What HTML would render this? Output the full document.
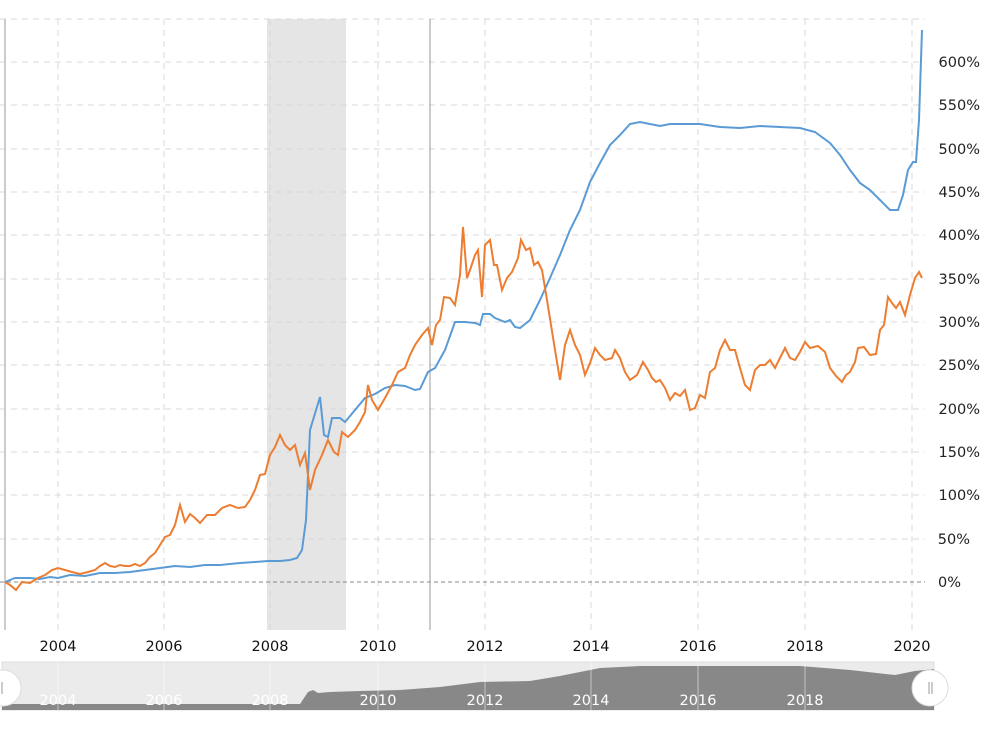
<!DOCTYPE html>
<html><head><meta charset="utf-8"><style>
body{margin:0;background:#fff;}
svg text{font-family:"DejaVu Sans","Liberation Sans",sans-serif;}
</style></head><body>
<svg width="997" height="728" viewBox="0 0 997 728" xmlns="http://www.w3.org/2000/svg">
<rect x="267" y="19" width="79" height="611" fill="#e5e5e5"/>
<g stroke="#d8d8d8" stroke-dasharray="6,5" stroke-width="1">
<line x1="0" y1="19" x2="925" y2="19"/><line x1="0" y1="62" x2="925" y2="62"/><line x1="0" y1="105" x2="925" y2="105"/><line x1="0" y1="149" x2="925" y2="149"/><line x1="0" y1="192" x2="925" y2="192"/><line x1="0" y1="235" x2="925" y2="235"/><line x1="0" y1="279" x2="925" y2="279"/><line x1="0" y1="322" x2="925" y2="322"/><line x1="0" y1="365" x2="925" y2="365"/><line x1="0" y1="409" x2="925" y2="409"/><line x1="0" y1="452" x2="925" y2="452"/><line x1="0" y1="495" x2="925" y2="495"/><line x1="0" y1="539" x2="925" y2="539"/>
<line x1="58" y1="19" x2="58" y2="630"/><line x1="164" y1="19" x2="164" y2="630"/><line x1="270" y1="19" x2="270" y2="630"/><line x1="378" y1="19" x2="378" y2="630"/><line x1="485" y1="19" x2="485" y2="630"/><line x1="591" y1="19" x2="591" y2="630"/><line x1="698" y1="19" x2="698" y2="630"/><line x1="805" y1="19" x2="805" y2="630"/><line x1="912" y1="19" x2="912" y2="630"/>
</g>
<line x1="0" y1="582" x2="925" y2="582" stroke="#888" stroke-dasharray="4,3"/>
<line x1="5" y1="19" x2="5" y2="630" stroke="#ccc" stroke-width="2"/>
<line x1="430" y1="19" x2="430" y2="630" stroke="#999"/>
<polyline fill="none" stroke="#5b9bd5" stroke-width="2" points="5,582 15,578 30,578 40,579 50,577 58,578 70,575 85,576 100,573 115,573 130,572 145,570 160,568 175,566 190,567 205,565 220,565 240,563 255,562 268,561 280,561 290,560 297,558 302,550 306,520 310,430 320,397 324,435 328,437 332,418 340,418 345,422 355,410 365,398 375,394 385,388 395,385 405,386 415,390 420,389 428,372 435,368 445,350 455,322 465,322 475,323 480,325 483,314 490,314 495,318 505,322 510,320 515,327 520,328 530,320 540,300 550,278 560,255 570,230 580,210 590,182 600,163 610,145 620,135 630,124 640,122 650,124 660,126 670,124 680,124 700,124 720,127 740,128 760,126 780,127 800,128 815,132 830,143 840,155 850,170 860,183 870,190 880,200 890,210 898,210 903,195 908,170 913,162 916,162 919,120 922,30"/>
<polyline fill="none" stroke="#ed7d31" stroke-width="2" points="5,582 10,585 16,590 22,582 30,583 38,578 45,575 52,570 58,568 65,570 72,572 80,574 88,572 95,570 100,566 105,563 110,566 115,567 120,565 125,566 130,566 135,564 140,566 145,563 150,557 155,553 160,545 165,537 170,535 175,525 180,505 185,522 190,514 195,518 200,523 207,515 215,515 222,508 230,505 238,508 245,507 250,500 255,490 260,475 265,474 270,455 275,447 280,435 285,445 290,450 295,445 300,465 305,453 310,490 315,470 322,455 328,440 334,452 338,455 342,432 348,437 355,430 360,422 365,412 368,385 372,400 378,410 385,398 392,385 398,372 405,368 410,355 415,345 422,335 428,328 432,345 436,325 440,320 444,297 450,298 455,305 460,275 463,227 467,278 470,270 475,255 478,250 482,297 485,245 490,240 494,265 497,265 502,290 507,278 512,272 518,258 521,240 526,250 530,248 534,265 538,262 542,270 547,300 551,325 555,350 560,380 565,345 570,330 575,345 580,355 585,375 590,363 595,348 600,355 605,360 612,358 615,350 620,358 625,372 630,380 637,375 643,362 648,370 652,378 656,382 660,380 665,388 670,400 675,393 680,396 685,390 690,410 695,408 700,395 705,398 710,372 715,368 720,350 725,340 730,350 735,350 740,368 745,385 750,390 755,370 760,365 765,365 770,360 775,368 780,358 785,348 790,358 795,360 800,352 805,342 810,348 818,346 825,352 830,368 836,376 842,382 846,375 850,372 855,362 858,348 864,347 870,355 876,354 880,330 884,325 888,297 892,303 896,308 900,302 905,315 910,295 915,278 919,272 922,278"/>
<g font-size="14.5" fill="#222" text-anchor="end">
<text x="980" y="67">600%</text><text x="980" y="110">550%</text><text x="980" y="154">500%</text><text x="980" y="197">450%</text><text x="980" y="240">400%</text><text x="980" y="284">350%</text><text x="980" y="327">300%</text><text x="980" y="370">250%</text><text x="980" y="414">200%</text><text x="980" y="457">150%</text><text x="980" y="500">100%</text><text x="970" y="544">50%</text><text x="961" y="587">0%</text>
</g>
<g font-size="14.5" fill="#111" text-anchor="middle">
<text x="58" y="651">2004</text><text x="164" y="651">2006</text><text x="270" y="651">2008</text><text x="378" y="651">2010</text><text x="485" y="651">2012</text><text x="591" y="651">2014</text><text x="698" y="651">2016</text><text x="805" y="651">2018</text><text x="912" y="651">2020</text>
</g>
<rect x="2" y="662" width="932" height="48" fill="#ebebeb" stroke="#ddd"/>
<polygon fill="#888" points="2,710 2,704 300,704 308,692 313,690 318,693 330,692 360,691 400,690 440,687 480,682 530,681 560,676 600,668 640,666 800,666 850,670 895,675 915,671 934,669 934,710"/>
<g stroke="#fff" stroke-opacity="0.5"><line x1="58" y1="662" x2="58" y2="710"/><line x1="164" y1="662" x2="164" y2="710"/><line x1="270" y1="662" x2="270" y2="710"/><line x1="378" y1="662" x2="378" y2="710"/><line x1="485" y1="662" x2="485" y2="710"/><line x1="591" y1="662" x2="591" y2="710"/><line x1="698" y1="662" x2="698" y2="710"/><line x1="805" y1="662" x2="805" y2="710"/></g>
<g font-size="14.5" fill="#fff" text-anchor="middle">
<text x="58" y="705">2004</text><text x="164" y="705">2006</text><text x="270" y="705">2008</text><text x="378" y="705">2010</text><text x="485" y="705">2012</text><text x="591" y="705">2014</text><text x="698" y="705">2016</text><text x="805" y="705">2018</text>
</g>
<circle cx="3" cy="688" r="18" fill="#fff" stroke="#ddd"/>
<circle cx="930" cy="688" r="18" fill="#fff" stroke="#ddd"/>
<line x1="2" y1="682" x2="2" y2="694" stroke="#999"/>
<line x1="929" y1="682" x2="929" y2="694" stroke="#999"/><line x1="932" y1="682" x2="932" y2="694" stroke="#999"/>
</svg>
</body></html>
